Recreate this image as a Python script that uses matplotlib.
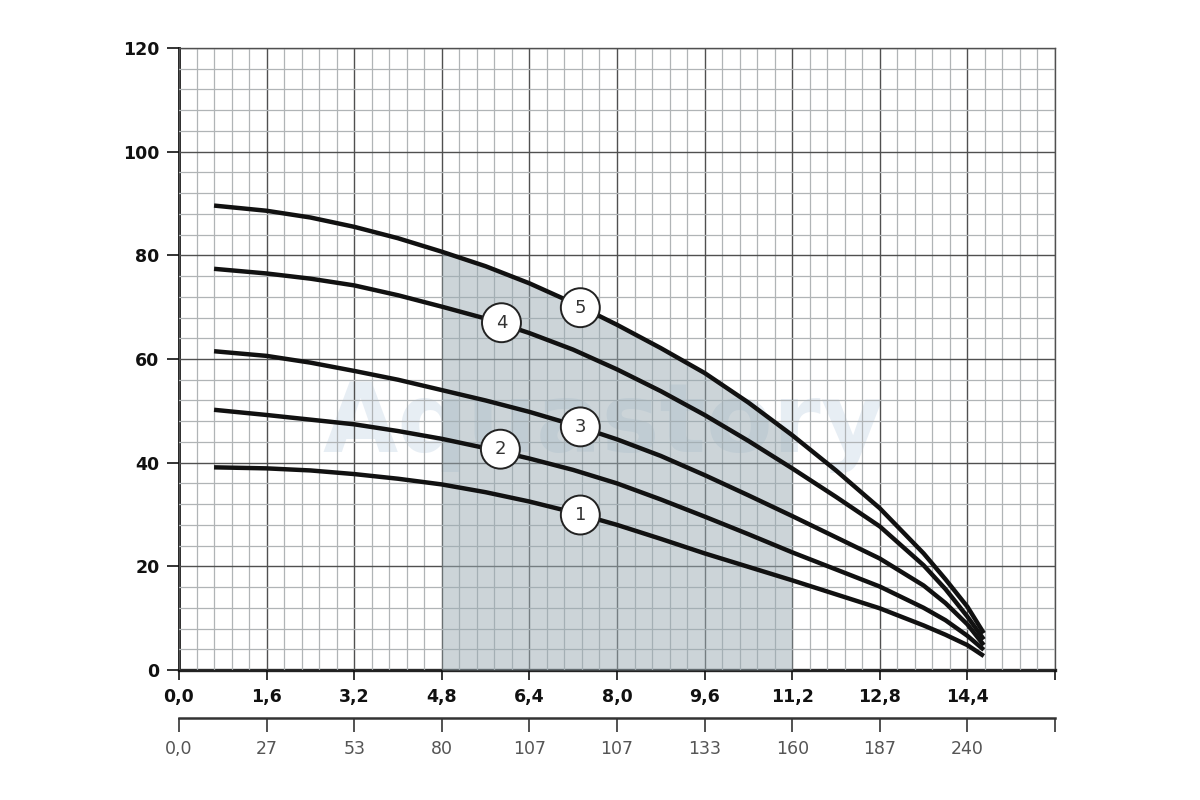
import matplotlib
matplotlib.use("Agg")
import matplotlib.pyplot as plt
from matplotlib.ticker import MultipleLocator, FixedLocator
import numpy as np

# ---- data ----
flow = [0.64, 1.6, 2.4, 3.2, 4.0, 4.8, 5.6, 6.4, 7.2, 8.0, 8.8, 9.6,
        10.4, 11.2, 12.0, 12.8, 13.6, 14.0, 14.4, 14.7]
head_1 = [39.1, 38.9, 38.5, 37.8, 36.9, 35.8, 34.3, 32.5, 30.4, 28.0, 25.3, 22.5,
          19.9, 17.3, 14.6, 11.9, 8.6, 6.8, 4.8, 2.7]
head_2 = [50.2, 49.2, 48.3, 47.4, 46.1, 44.6, 42.8, 40.8, 38.6, 36.0, 32.9, 29.6,
          26.2, 22.7, 19.4, 16.1, 12.0, 9.6, 6.6, 3.9]
head_3 = [61.5, 60.6, 59.3, 57.7, 56.0, 54.0, 52.0, 49.8, 47.3, 44.5, 41.3, 37.6,
          33.7, 29.7, 25.6, 21.5, 16.3, 12.9, 8.8, 4.8]
head_4 = [77.4, 76.5, 75.5, 74.2, 72.3, 70.1, 67.8, 65.0, 61.8, 58.0, 53.8, 49.2,
          44.2, 38.9, 33.4, 27.7, 20.2, 15.6, 10.3, 5.9]
head_5 = [89.6, 88.6, 87.3, 85.5, 83.3, 80.7, 77.9, 74.6, 70.8, 66.6, 62.1, 57.3,
          51.6, 45.3, 38.5, 31.2, 22.5, 17.5, 12.2, 7.1]
curves = [head_1, head_2, head_3, head_4, head_5]

curve_labels = ["1", "2", "3", "4", "5"]
label_x = [7.33, 5.87, 7.33, 5.89, 7.33]
label_y = [29.9, 42.6, 46.9, 67.0, 69.9]

work_range = (4.8, 11.2)

x_ticks = [0.0, 1.6, 3.2, 4.8, 6.4, 8.0, 9.6, 11.2, 12.8, 14.4, 16.0]
x_ticklabels = ["0,0", "1,6", "3,2", "4,8", "6,4", "8,0", "9,6", "11,2", "12,8", "14,4", ""]
x2_ticklabels = ["0,0", "27", "53", "80", "107", "107", "133", "160", "187", "240", ""]
y_ticks = [0, 20, 40, 60, 80, 100, 120]

# ---- figure ----
fig = plt.figure(figsize=(12, 8), dpi=100)
ax = fig.add_axes([179 / 1200, 130 / 800, (1055 - 179) / 1200, (670 - 48) / 800])
ax.set_xlim(0, 16)
ax.set_ylim(0, 120)

# watermark
ax.text(7.75, 42.0, "Aquastory", fontsize=70, fontweight="bold", color="#c5d5e5",
        alpha=0.4, ha="center", va="baseline", zorder=0.7, family="DejaVu Sans")

# grid
ax.xaxis.set_major_locator(FixedLocator(x_ticks))
ax.xaxis.set_minor_locator(MultipleLocator(0.32))
ax.yaxis.set_major_locator(FixedLocator(y_ticks))
ax.yaxis.set_minor_locator(MultipleLocator(4))
ax.set_axisbelow(False)
ax.grid(which="minor", color="#b0b4b6", linewidth=0.9)
ax.grid(which="major", color="#505050", linewidth=1.0)

# shaded working range (under curve 5), translucent over the grid
fx = np.array(flow)
mask = (fx >= work_range[0]) & (fx <= work_range[1])
ax.fill_between(fx[mask], 0, np.array(head_5)[mask], color="#9aabb3", alpha=0.5,
                zorder=2.6, linewidth=0)

# curves
for h in curves:
    ax.plot(flow, h, color="#111111", linewidth=3.2, solid_capstyle="butt",
            solid_joinstyle="round", zorder=3)

# curve number labels
for lab, lx, ly in zip(curve_labels, label_x, label_y):
    ax.text(lx, ly, lab, fontsize=13, color="#333333", ha="center", va="center", zorder=5,
            family="DejaVu Sans",
            bbox=dict(boxstyle="circle,pad=0.58", facecolor="white", edgecolor="#222222",
                      linewidth=1.4))

# spines & ticks
ax.spines["left"].set_linewidth(2.0)
ax.spines["left"].set_color("#111111")
ax.spines["bottom"].set_linewidth(2.4)
ax.spines["bottom"].set_color("#222222")
for s in ("top", "right"):
    ax.spines[s].set_linewidth(1.0)
    ax.spines[s].set_color("#505050")

ax.set_xticklabels(x_ticklabels)
ax.tick_params(axis="x", which="major", direction="out", length=7, width=1.2, pad=6,
               labelsize=12.5, colors="#111111")
ax.tick_params(axis="y", which="major", direction="out", length=9, width=1.2, pad=5,
               labelsize=12.5, colors="#111111")
ax.tick_params(which="minor", length=0)
for t in ax.get_xticklabels() + ax.get_yticklabels():
    t.set_fontweight("bold")

# secondary x axis
sec = ax.secondary_xaxis(-48 / 622)
sec.xaxis.set_major_locator(FixedLocator(x_ticks))
sec.set_xticklabels(x2_ticklabels)
sec.spines["bottom"].set_linewidth(1.8)
sec.spines["bottom"].set_color("#333333")
sec.tick_params(axis="x", direction="out", length=10, width=1.2, pad=6,
                labelsize=12.5, colors="#333333", labelcolor="#555555")

fig.savefig("out.png", dpi=100, facecolor="white")
